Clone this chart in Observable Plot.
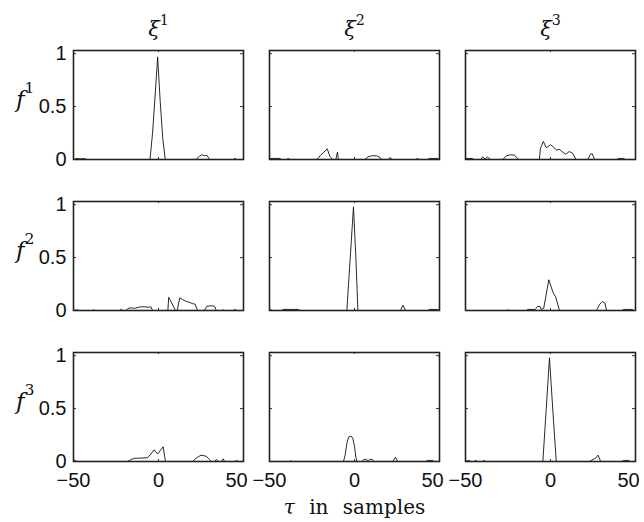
<!DOCTYPE html>
<html>
<head>
<meta charset="utf-8">
<script src="https://cdn.jsdelivr.net/npm/d3@7"></script>
<script src="https://cdn.jsdelivr.net/npm/@observablehq/plot@0.6"></script>
<style>
  html, body { margin: 0; padding: 0; background: #fff; }
  #chart svg { overflow: visible; }
  .xlab { word-spacing: 8px; }
</style>
</head>
<body>
<div id="chart"></div>
<script>
// Facet labels (columns: source estimates xi, rows: reference f)
const xiLabels = ["ξ1", "ξ2", "ξ3"];
const fLabels = ["f1", "f2", "f3"];
const xTicks = [-50, 0, 50];
const xTicksLeft = [-50, 0];
const xTicksRight = [50];
const yTicks = [0, 0.5, 1];
const xLabelText = "τ in samples";

// Cross-correlation curves: [tau, value]
const f1_xi1 = [[-50,0],[-48,0.01],[-46,0.005],[-44,0.01],[-42,0],[-5,0],[-3.5,0.25],[-2,0.6],[-0.5,0.97],[1,0.55],[2.5,0.2],[4,0],[22,0],[24,0.03],[25.5,0.045],[27,0.035],[28.5,0.04],[30,0],[44,0],[45,0.01],[46,0],[50,0]];
const f1_xi2 = [[-50,0.01],[-44,0.01],[-43,0],[-40,0],[-39,0.01],[-38,0],[-22,0],[-20,0.04],[-18,0.07],[-16,0.1],[-14.5,0.03],[-13,0],[-11,0],[-10,0.07],[-9.5,0],[6,0],[8,0.025],[10,0.035],[13,0.035],[15,0.02],[16,0],[20,0],[21,0.02],[22,0],[36,0],[37,0.01],[38,0],[43,0],[44,0.01],[49,0.01],[50,0]];
const f1_xi3 = [[-50,0.01],[-46,0.01],[-45,0],[-41,0],[-40,0.025],[-38.5,0.005],[-37,0.025],[-35.5,0],[-28,0],[-26,0.035],[-23.5,0.045],[-21,0.04],[-19,0],[-6.5,0],[-6,0.1],[-4.2,0.17],[-2.4,0.11],[0,0.14],[1.5,0.12],[3.5,0.09],[5.5,0.095],[7,0.07],[9,0.05],[11,0.075],[13,0.06],[15,0],[22,0],[23.5,0.05],[24.5,0.055],[26,0],[39,0],[40,0.01],[43,0.01],[44,0],[50,0]];
const f2_xi1 = [[-50,0],[-48,0.005],[-47,0],[-39,0],[-38,0.005],[-37,0],[-23,0],[-22,0.01],[-21,0],[-19,0],[-18,0.02],[-16,0.025],[-14,0.02],[-12,0.03],[-10,0.035],[-8,0.035],[-6,0.03],[-4.5,0.035],[-3.5,0],[5.5,0],[6,0.125],[10,0],[11,0],[12.5,0.12],[14.5,0.1],[16.5,0.085],[18.5,0.075],[20,0.065],[21.5,0.06],[23,0],[27,0],[28.5,0.04],[31,0.045],[33,0.04],[34,0],[37,0],[38,0.005],[39,0],[44,0],[45,0.01],[46,0],[50,0]];
const f2_xi2 = [[-50,0],[-49,0.005],[-48,0],[-43,0],[-42,0.01],[-33,0.01],[-32,0],[-4.5,0],[-2.5,0.5],[-0.6,0.98],[0.8,0.5],[2,0],[27,0],[28.5,0.05],[30,0],[43,0],[44,0.01],[49,0.01],[50,0]];
const f2_xi3 = [[-50,0],[-26,0],[-25,0.005],[-24,0],[-14,0],[-13.5,0.01],[-9,0.01],[-7.5,0.04],[-6,0.035],[-5.5,0.01],[-4,0.02],[-1,0.29],[1.5,0.17],[3,0.13],[5.3,0],[27,0],[29,0.06],[30.5,0.085],[32,0.07],[33,0],[42,0],[43,0.01],[48,0.01],[49,0],[50,0]];
const f3_xi1 = [[-50,0],[-49,0.01],[-48,0],[-18,0],[-16,0.02],[-14,0.03],[-6.5,0.035],[-4.5,0.07],[-2.6,0.11],[-0.5,0.07],[2.7,0.14],[4.1,0],[20,0],[22,0.03],[25,0.06],[28,0.05],[30,0.02],[31,0],[33,0],[34,0.02],[35,0],[37,0],[38,0.025],[39,0],[45,0],[46,0.01],[47,0],[50,0]];
const f3_xi2 = [[-50,0],[-38,0],[-37.5,0.01],[-37,0],[-6.5,0],[-5.5,0.06],[-4.5,0.17],[-3.5,0.23],[-2,0.24],[-1,0.22],[0,0.14],[0.8,0.04],[1.5,0],[4.5,0],[5.5,0.02],[7,0.02],[8,0.005],[9,0.02],[10.5,0.02],[11.5,0],[22.5,0],[24,0.04],[25.5,0],[42,0],[43,0.01],[46,0.01],[47,0],[50,0]];
const f3_xi3 = [[-50,0],[-48,0.01],[-47,0],[-45,0],[-44,0.01],[-43,0],[-40,0],[-39,0.01],[-38,0],[-4.5,0],[-2.5,0.5],[-0.6,0.98],[1.5,0.45],[3.4,0],[23,0],[25,0.02],[26.5,0.03],[28,0.06],[29.5,0],[42,0],[43,0.01],[46,0.01],[47,0],[50,0]];

const panels = [
  ["f1","ξ1",f1_xi1],["f1","ξ2",f1_xi2],["f1","ξ3",f1_xi3],
  ["f2","ξ1",f2_xi1],["f2","ξ2",f2_xi2],["f2","ξ3",f2_xi3],
  ["f3","ξ1",f3_xi1],["f3","ξ2",f3_xi2],["f3","ξ3",f3_xi3]
];
const rows = panels.flatMap(([f, xi, pts]) => pts.map(([tau, value]) => ({f, xi, tau, value})));

const ink = "#111";
const serif = "DejaVu Serif";
const tickLen = 3;

const chart = Plot.plot({
  width: 644,
  height: 522,
  marginLeft: 72,
  marginRight: 9,
  marginTop: 49,
  marginBottom: 59,
  style: {fontFamily: "Liberation Sans, Arial, sans-serif", fontSize: "20px", color: ink, background: "white"},
  x: {domain: [-50, 50]},
  y: {domain: [0, 1.03]},
  fx: {domain: xiLabels, paddingInner: 0.135, paddingOuter: 0},
  fy: {domain: fLabels, paddingInner: 0.276, paddingOuter: 0},
  marks: [
    Plot.line(rows, {x: "tau", y: "value", fx: "xi", fy: "f", z: null, stroke: ink, strokeWidth: 0.9}),
    // inward tick marks on all four sides of every panel (non-faceted marks repeat in each facet)
    Plot.ruleX(xTicks, {x: d => d, insetTop: 110 - tickLen, stroke: "#333", strokeWidth: 1}),
    Plot.ruleX(xTicks, {x: d => d, insetBottom: 110 - tickLen, stroke: "#333", strokeWidth: 1}),
    Plot.ruleY(yTicks, {y: d => d, insetRight: 170 - tickLen, stroke: "#333", strokeWidth: 1}),
    Plot.ruleY(yTicks, {y: d => d, insetLeft: 170 - tickLen, stroke: "#333", strokeWidth: 1}),
    // tick labels
    Plot.axisX(xTicksLeft, {anchor: "bottom", tickSize: 0, tickPadding: 11, label: null, fontSize: 20}),
    Plot.axisX(xTicksRight, {anchor: "bottom", tickSize: 0, tickPadding: 11, label: null, fontSize: 20, dx: -7}),
    Plot.axisY(yTicks, {anchor: "left", tickSize: 0, tickPadding: 7, label: null, fontSize: 20, tickFormat: d => String(d)}),
    // facet labels
    Plot.axisFx({anchor: "top", tickSize: 0, tickPadding: 15, label: null, fontSize: 21, fontFamily: serif}),
    Plot.axisFy({anchor: "left", tickSize: 0, tickPadding: 39, label: null, fontSize: 23, fontFamily: serif, dy: -5}),
    Plot.frame({stroke: "#222", strokeWidth: 1.6}),
    Plot.text([xLabelText], {fx: ["ξ2"], fy: ["f3"], text: d => d, frameAnchor: "bottom", dy: 46, lineAnchor: "middle", fontSize: 20, fontFamily: serif, className: "xlab"})
  ]
});

// superscripts for facet labels, italic math symbols
d3.select(chart).selectAll("text").each(function() {
  const t = this.textContent;
  const sel = d3.select(this);
  const m = /^(ξ|f)(\d)$/.exec(t);
  if (m) {
    sel.text(null);
    sel.append("tspan").attr("font-style", "italic").text(m[1]);
    sel.append("tspan").attr("font-size", "0.68em").attr("dy", m[1] === "f" ? "-0.95em" : "-0.75em").text(m[2]);
    return;
  }
  if (t === xLabelText) {
    sel.text(null);
    sel.append("tspan").attr("font-style", "italic").text("τ");
    sel.append("tspan").text(xLabelText.slice(1));
  }
});

document.getElementById("chart").appendChild(chart);
</script>
</body>
</html>
